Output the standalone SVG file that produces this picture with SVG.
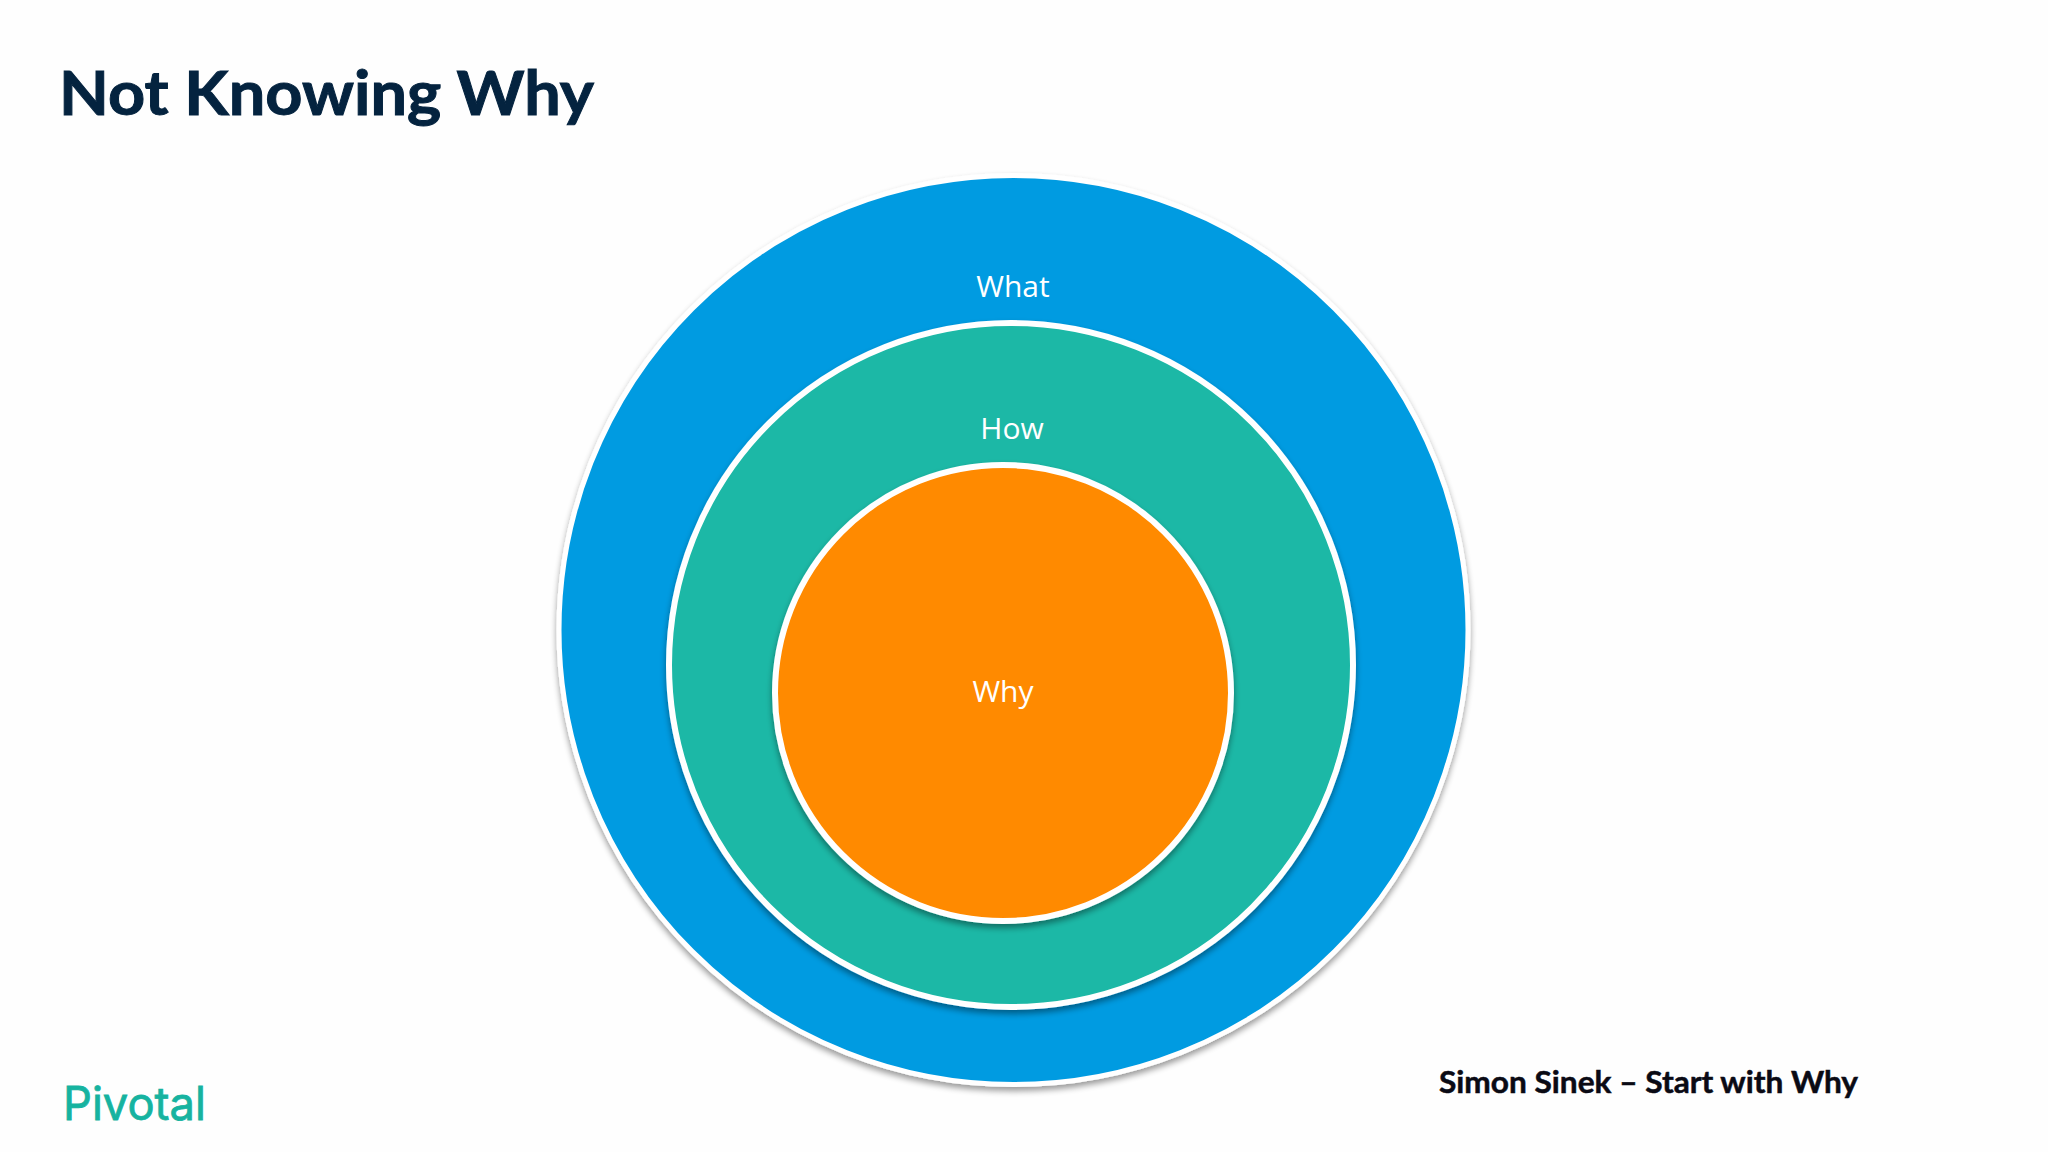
<svg xmlns="http://www.w3.org/2000/svg" width="2048" height="1152" viewBox="0 0 2048 1152">
<style>
.t{font-family:"Open Sans","Noto Sans",sans-serif;text-anchor:middle;fill:#fff;font-size:30px}
.b{font-family:"Lato","Open Sans",sans-serif;font-weight:700}
.ring{stroke:#fff}
</style>
<defs>
<filter id="sh" x="-10%" y="-10%" width="120%" height="120%"><feGaussianBlur in="SourceAlpha" stdDeviation="3"/><feOffset dy="4"/><feComponentTransfer><feFuncA type="linear" slope="0.4"/></feComponentTransfer><feMerge><feMergeNode/><feMergeNode in="SourceGraphic"/></feMerge></filter>
</defs>
<rect width="2048" height="1152" fill="#fefefe"/>
<text id="title" class="b" x="59" y="115" font-size="62" fill="#04233f" stroke="#04233f" stroke-width="1" textLength="535" lengthAdjust="spacingAndGlyphs">Not Knowing Why</text>
<g id="what"><circle class="ring" cx="1013.5" cy="630" r="454.5" fill="#039be1" stroke-width="5" filter="url(#sh)"/><text class="t" x="1013" y="297">What</text></g>
<g id="how"><circle class="ring" cx="1011" cy="665" r="342" fill="#1cb8a6" stroke-width="6" filter="url(#sh)"/><text class="t" x="1012" y="439">How</text></g>
<g id="why"><circle class="ring" cx="1003" cy="693" r="228" fill="#ff8a00" stroke-width="6" filter="url(#sh)"/><text class="t" x="1003" y="702">Why</text></g>
<text id="source" class="b" x="1439" y="1093" font-size="30" fill="#0a0a14" stroke="#0a0a14" stroke-width="0.5" textLength="419" lengthAdjust="spacingAndGlyphs">Simon Sinek – Start with Why</text>
<text id="logo" x="63" y="1120" font-family="Inter,'Open Sans',sans-serif" font-size="46" font-weight="400" fill="#16b3a0" stroke="#16b3a0" stroke-width="0.8" textLength="143" lengthAdjust="spacingAndGlyphs">Pivotal</text>
</svg>
